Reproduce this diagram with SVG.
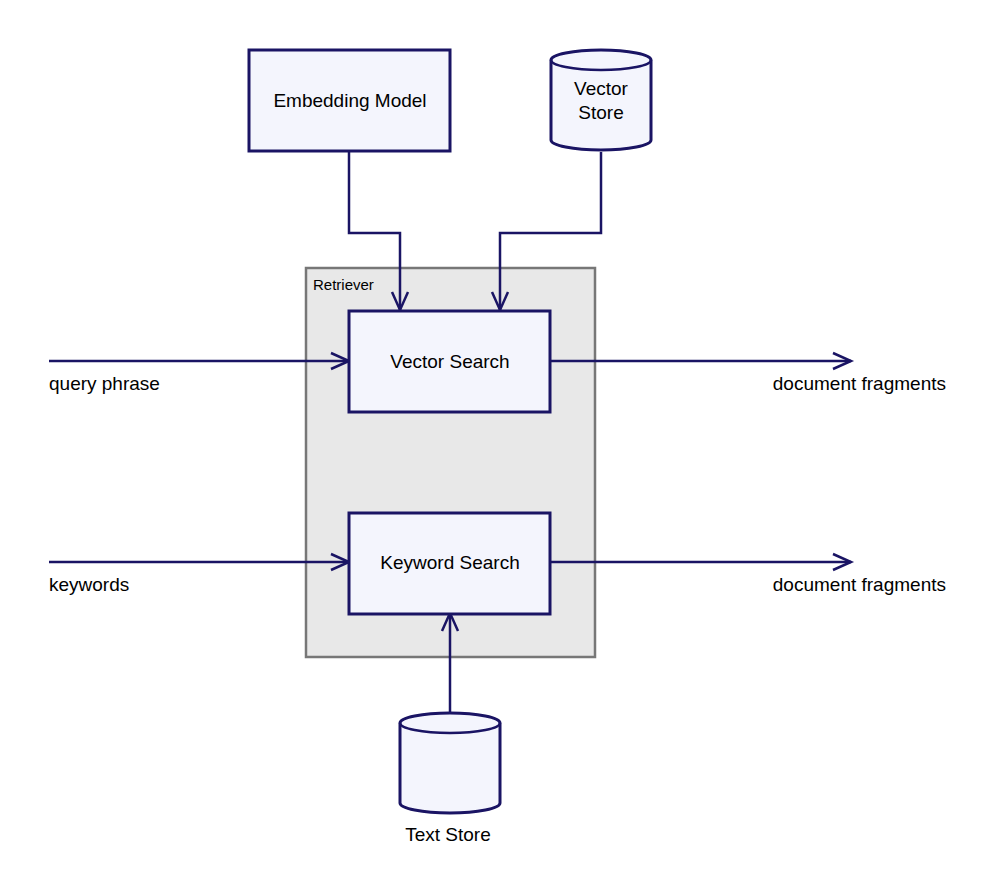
<svg xmlns="http://www.w3.org/2000/svg" width="1008" height="880" viewBox="0 0 1008 880">
<style>
.n{fill:#f4f5fd;stroke:#1a1464;stroke-width:3}
.e{fill:none;stroke:#1a1464;stroke-width:2.5}
.t{font-family:"Liberation Sans",Arial,sans-serif;font-size:19px;fill:#000}
</style>
<defs><marker id="a" markerWidth="24" markerHeight="20" refX="20" refY="10" orient="auto" markerUnits="userSpaceOnUse"><path d="M2,2 L20,10 L2,18" fill="none" stroke="#1a1464" stroke-width="2.5"/></marker></defs>
<rect width="1008" height="880" fill="#fff"/>
<g id="retriever"><rect x="306" y="268" width="289" height="389" fill="#e8e8e8" stroke="#777" stroke-width="2.5"/><text x="313" y="290" style="font-family:'Liberation Sans',Arial,sans-serif;font-size:15px">Retriever</text></g>
<g id="edges" class="e">
<path class="e" d="M349,152 V233 H400 V310" marker-end="url(#a)"/>
<path class="e" d="M601,152 V233 H500 V310" marker-end="url(#a)"/>
<path class="e" d="M49,361 H349" marker-end="url(#a)"/>
<path class="e" d="M49,562 H349" marker-end="url(#a)"/>
<path class="e" d="M551,361 H851" marker-end="url(#a)"/>
<path class="e" d="M551,562 H851" marker-end="url(#a)"/>
<path class="e" d="M450,714 V613" marker-end="url(#a)"/>
</g>
<g id="embedding"><rect class="n" x="249" y="50" width="201" height="101"/><text class="t" x="350" y="107" text-anchor="middle">Embedding Model</text></g>
<g id="vectorstore"><path class="n" d="M551,60 V140 A50,10 0 0 0 651,140 V60 A50,10 0 0 0 551,60 Z"/><path class="e" d="M551,60 A50,10 0 0 0 651,60" stroke-width="3"/><text class="t" x="601" y="95" text-anchor="middle">Vector</text><text class="t" x="601" y="119" text-anchor="middle">Store</text></g>
<g id="vectorsearch"><rect class="n" x="349" y="311" width="201" height="101"/><text class="t" x="450" y="368" text-anchor="middle">Vector Search</text></g>
<g id="keywordsearch"><rect class="n" x="349" y="513" width="201" height="101"/><text class="t" x="450" y="569" text-anchor="middle">Keyword Search</text></g>
<g id="textstore"><path class="n" d="M400,723 V803 A50,10 0 0 0 500,803 V723 A50,10 0 0 0 400,723 Z"/><path class="e" d="M400,723 A50,10 0 0 0 500,723" stroke-width="3"/><text class="t" x="448" y="841" text-anchor="middle">Text Store</text></g>
<g id="labels">
<text class="t" x="49" y="390">query phrase</text>
<text class="t" x="49" y="591">keywords</text>
<text class="t" x="946" y="390" text-anchor="end">document fragments</text>
<text class="t" x="946" y="591" text-anchor="end">document fragments</text>
</g>
</svg>
